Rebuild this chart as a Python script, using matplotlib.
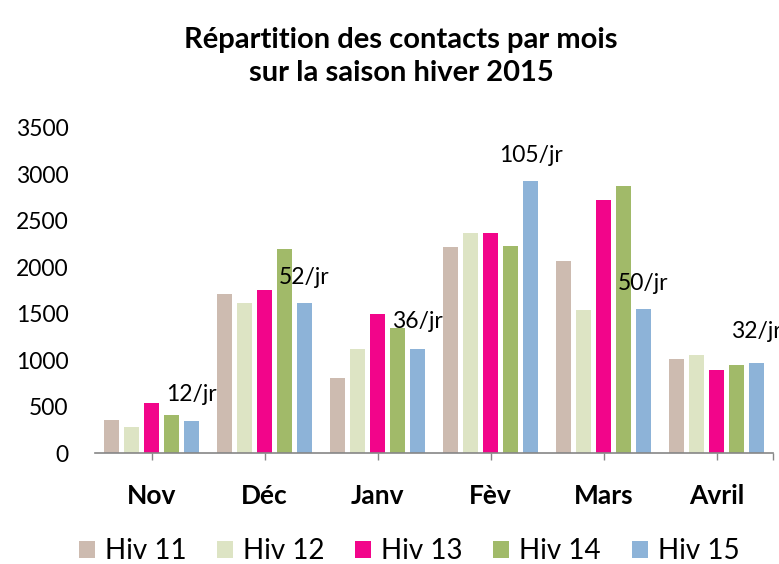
import numpy as np
import matplotlib
matplotlib.use("Agg")
import matplotlib.pyplot as plt
from matplotlib.patches import Patch

plt.rcParams['font.family'] = ['Lato', 'DejaVu Sans']

# data
months = ['Nov', 'Déc', 'Janv', 'Fèv', 'Mars', 'Avril']
seasons = ['Hiv 11', 'Hiv 12', 'Hiv 13', 'Hiv 14', 'Hiv 15']
hiv11 = [355, 1709, 811, 2215, 2068, 1016]
hiv12 = [283, 1619, 1117, 2366, 1536, 1055]
hiv13 = [542, 1755, 1493, 2366, 2725, 890]
hiv14 = [409, 2193, 1350, 2229, 2879, 948]
hiv15 = [348, 1612, 1120, 2929, 1547, 966]
per_day = ['12/jr', '52/jr', '36/jr', '105/jr', '50/jr', '32/jr']

series = [hiv11, hiv12, hiv13, hiv14, hiv15]
colors = ['#cdbbb0', '#dde4c4', '#f2058a', '#a1ba69', '#8db3d8']

# heights where the per-day labels sit
label_y = [635, 1885, 1421, 3208, 1830, 1313]

fig = plt.figure(figsize=(7.79, 5.64), dpi=100)
ax = fig.add_axes([95/779, 1 - 453/564, (773-95)/779, (453-128)/564])

x = np.arange(len(months))
slot = 0.177
bw = 0.137
for k, (vals, col) in enumerate(zip(series, colors)):
    ax.bar(x + (k - 2) * slot, vals, width=bw, color=col, edgecolor='none', zorder=2)

# per-day labels centred over the last series
for i, txt in enumerate(per_day):
    ax.text(x[i] + 2 * slot, label_y[i], txt, ha='center', va='center',
            fontsize=16.5, color='black', zorder=3, clip_on=False)

ax.set_xlim(-0.5, 5.5)
ax.set_ylim(0, 3500)
ax.set_yticks(range(0, 3501, 500))
ax.set_xticks(x)
ax.set_xticklabels(months, fontsize=19, fontweight='bold')
ax.set_xticks([5.5], minor=True)
for lab in ax.get_yticklabels():
    lab.set_fontsize(16.5)

for side in ['top', 'right', 'left']:
    ax.spines[side].set_visible(False)
ax.spines['bottom'].set_color('#868686')
ax.spines['bottom'].set_linewidth(1.2)
ax.tick_params(axis='y', length=0, pad=19)
ax.tick_params(axis='x', which='both', length=5, width=1.0, color='#868686',
               direction='out', pad=17)

fig.text(401/779, 1 - 40/564, 'Répartition des contacts par mois',
         ha='center', va='center', fontsize=21, fontweight='bold')
fig.text(401/779, 1 - 73/564, 'sur la saison hiver 2015',
         ha='center', va='center', fontsize=21, fontweight='bold')

handles = [Patch(facecolor=c, edgecolor='none') for c in colors]
fig.legend(handles, seasons, loc='center', bbox_to_anchor=(409/779, 1 - 551/564),
           ncol=5, frameon=False, fontsize=20, handlelength=0.58, handleheight=0.58,
           handletextpad=0.36, columnspacing=1.1, borderpad=0, borderaxespad=0)

fig.savefig('out.png', dpi=100)
